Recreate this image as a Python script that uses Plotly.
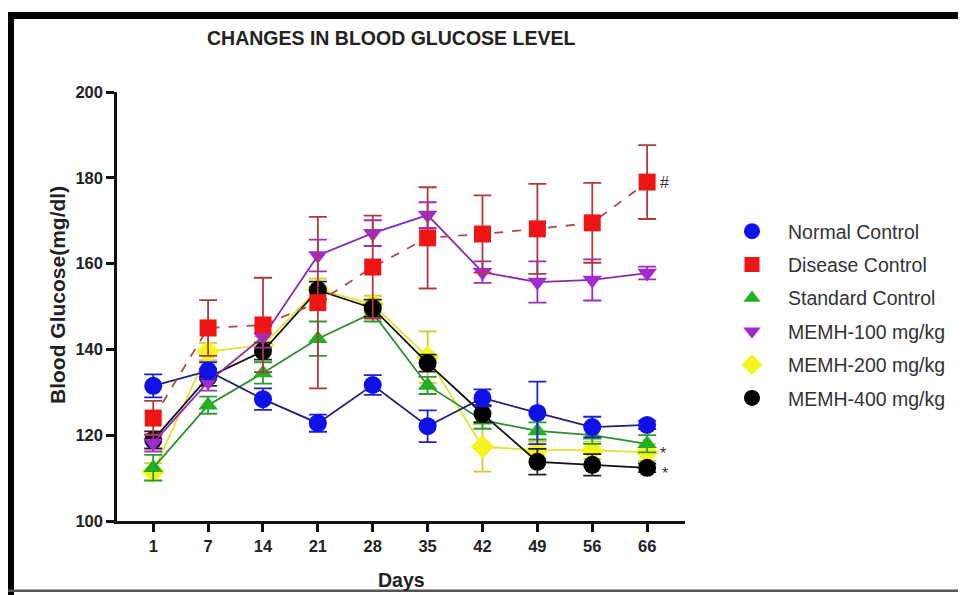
import plotly.graph_objects as go

days = ["1", "7", "14", "21", "28", "35", "42", "49", "56", "66"]

normal_control = [131.5, 135.0, 128.4, 122.8, 131.7, 122.1, 128.7, 125.2, 121.9, 122.4]
normal_err = [2.7, 2.0, 2.5, 2.0, 2.3, 3.7, 2.0, 7.3, 2.4, 1.0]

disease_control = [124.0, 145.0, 145.7, 150.9, 159.2, 166.0, 166.9, 168.1, 169.5, 179.0]
disease_err = [4.0, 6.5, 11.0, 20.0, 12.0, 11.8, 9.0, 10.5, 9.3, 8.6]

standard_control = [112.4, 127.0, 134.5, 142.5, 148.5, 131.6, 123.5, 121.0, 120.0, 118.0]
standard_err = [3.0, 2.0, 2.5, 4.0, 2.0, 2.0, 2.0, 2.0, 2.0, 2.0]

memh_100 = [118.2, 132.4, 142.9, 161.9, 167.1, 171.3, 158.0, 155.7, 156.2, 157.8]
memh_100_err = [2.0, 2.0, 2.5, 3.7, 3.0, 3.0, 2.5, 4.8, 4.8, 1.5]

memh_200 = [111.5, 139.5, 141.0, 154.0, 150.5, 138.2, 117.3, 116.5, 116.5, 116.0]
memh_200_err = [2.0, 2.0, 2.0, 2.5, 2.0, 6.0, 5.8, 2.0, 2.0, 2.0]

memh_400 = [118.9, 133.5, 139.6, 153.8, 149.6, 136.8, 125.0, 113.8, 113.1, 112.4]
memh_400_err = [2.0, 2.0, 2.0, 2.0, 2.0, 2.0, 2.0, 3.0, 2.5, 1.0]

series = [
    # name, values, errors, marker colour, line colour, err colour, symbol, dash
    ("Normal Control", normal_control, normal_err, "#1010e8", "#202078", "#2020d0", "circle", "solid"),
    ("Disease Control", disease_control, disease_err, "#ee1515", "#b04848", "#b03a3a", "square", "dash"),
    ("Standard Control", standard_control, standard_err, "#22b022", "#2e8e2e", "#2e9a2e", "triangle-up", "solid"),
    ("MEMH-100 mg/kg", memh_100, memh_100_err, "#a22ad0", "#8a2ab0", "#9a30c0", "triangle-down", "solid"),
    ("MEMH-200 mg/kg", memh_200, memh_200_err, "#f4f41e", "#e2e23a", "#d8c830", "diamond", "solid"),
    ("MEMH-400 mg/kg", memh_400, memh_400_err, "#000000", "#111111", "#222222", "circle", "solid"),
]

draw_order = [4, 2, 5, 3, 0, 1]
sizes = {"circle": 18, "square": 17, "triangle-up": 17, "triangle-down": 17, "diamond": 18}

fig = go.Figure()
for i in draw_order:
    name, vals, errs, mc, lc, ec, sym, dash = series[i]
    fig.add_trace(go.Scatter(
        x=days, y=vals, mode="lines+markers", name=name, showlegend=False,
        line=dict(color=lc, width=1.8, dash=dash),
        marker=dict(symbol=sym, size=sizes[sym], color=mc, line=dict(width=0)),
        error_y=dict(type="data", array=errs, visible=True, color=ec, thickness=1.8, width=9),
    ))

for i, (name, vals, errs, mc, lc, ec, sym, dash) in enumerate(series):
    fig.add_trace(go.Scatter(
        x=[None], y=[None], mode="markers", name=name, showlegend=True,
        legendgroup=f"g{i}",
        marker=dict(symbol=sym, size=sizes[sym] - 2, color=mc, line=dict(width=0)),
    ))

# page has an 8px body margin; work in page pixels and convert
OFF = 8
W, H = 958, 587
PL, PR, PT, PB = 117, 685, 92, 521  # plot area in page pixels
L, T = PL - OFF, PT - OFF
R = W - (PR - OFF)
B = H - (PB - OFF)
pw, ph = PR - PL, PB - PT

def px_x(px):
    return (px - PL) / pw

def px_y(py):
    return (PB - py) / ph

FONT = "Liberation Sans, Arial, sans-serif"

fig.update_layout(
    width=W, height=H,
    margin=dict(l=L, r=R, t=T, b=B),
    paper_bgcolor="white", plot_bgcolor="white",
    font=dict(family=FONT, color="#222222"),
    showlegend=True,
    legend=dict(
        x=px_x(716), y=px_y(212), xanchor="left", yanchor="top",
        font=dict(size=19.5, color="#333333", family=FONT),
        tracegroupgap=5, bgcolor="rgba(0,0,0,0)",
        itemsizing="trace", itemwidth=62,
    ),
    xaxis=dict(
        type="category", range=[-0.66, 9.69],
        showline=True, linecolor="#111111", linewidth=2.5,
        ticks="outside", ticklen=8, tickwidth=2.5, tickcolor="#111111",
        tickfont=dict(size=16.5, color="#222222", family=FONT, weight="bold"),
        showgrid=False, zeroline=False,
    ),
    yaxis=dict(
        range=[100, 200], tickvals=[100, 120, 140, 160, 180, 200],
        showline=True, linecolor="#111111", linewidth=2.5,
        ticks="outside", ticklen=8, tickwidth=2.5, tickcolor="#111111",
        tickfont=dict(size=16.5, color="#222222", family=FONT, weight="bold"),
        showgrid=False, zeroline=False,
    ),
    annotations=[
        dict(text="<b>CHANGES IN BLOOD GLUCOSE LEVEL</b>", xref="paper", yref="paper",
             x=px_x(391), y=px_y(38), xanchor="center", yanchor="middle", showarrow=False,
             font=dict(size=19.5, color="#222222")),
        dict(text="<b>Days</b>", xref="paper", yref="paper",
             x=px_x(401), y=px_y(580), xanchor="center", yanchor="middle", showarrow=False,
             font=dict(size=19.5, color="#222222")),
        dict(text="<b>Blood Glucose(mg/dl)</b>", xref="paper", yref="paper",
             x=px_x(57), y=px_y(295), xanchor="center", yanchor="middle", showarrow=False,
             textangle=-90, font=dict(size=21, color="#222222")),
        dict(text="#", xref="x", yref="y", x=9, y=disease_control[-1],
             xshift=17, showarrow=False, font=dict(size=16, color="#333333")),
        dict(text="*", xref="x", yref="y", x=9, y=standard_control[-1],
             xshift=16, yshift=-10, showarrow=False, font=dict(size=16, color="#333333")),
        dict(text="*", xref="x", yref="y", x=9, y=memh_400[-1],
             xshift=18, yshift=-6, showarrow=False, font=dict(size=16, color="#333333")),
    ],
    shapes=[
        dict(type="rect", xref="paper", yref="paper", x0=px_x(8), x1=px_x(966),
             y0=px_y(19), y1=px_y(12), fillcolor="black", line=dict(width=0), layer="above"),
        dict(type="rect", xref="paper", yref="paper", x0=px_x(8), x1=px_x(14),
             y0=px_y(595), y1=px_y(12), fillcolor="black", line=dict(width=0), layer="above"),
        dict(type="rect", xref="paper", yref="paper", x0=px_x(8), x1=px_x(966),
             y0=px_y(592), y1=px_y(589.5), fillcolor="#555555", line=dict(width=0), layer="above"),
    ],
)

fig.write_html("out.html")
